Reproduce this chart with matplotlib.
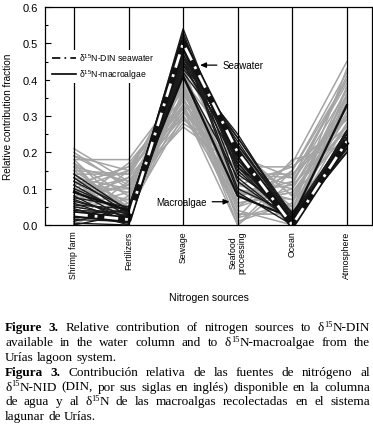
import matplotlib
matplotlib.use("Agg")
import matplotlib.pyplot as plt
from matplotlib.lines import Line2D

plt.rcParams["mathtext.fontset"] = "custom"
plt.rcParams["mathtext.rm"] = "Liberation Serif"
plt.rcParams["mathtext.sf"] = "Liberation Sans"

SANS = ["Liberation Sans Narrow", "Liberation Sans", "DejaVu Sans"]
SERIF = ["Liberation Serif", "DejaVu Serif"]
W, H = 373, 435

sources = ["Shrimp farm", "Fertilizers", "Sewage", "Seafood\nprocessing", "Ocean", "Atmosphere"]

# macroalgae solutions (grey)
ma_shrimp = [0.21, 0.20, 0.19, 0.18, 0.17, 0.16, 0.15, 0.14, 0.13, 0.12, 0.11, 0.10, 0.09, 0.08, 0.07, 0.06, 0.05, 0.04,
             0.03, 0.02, 0.01, 0.00, 0.19, 0.17, 0.15, 0.13, 0.11, 0.09, 0.07, 0.05, 0.12, 0.16, 0.14, 0.10, 0.08, 0.18]
ma_fert = [0.12, 0.10, 0.15, 0.18, 0.08, 0.12, 0.05, 0.14, 0.10, 0.02, 0.16, 0.07, 0.13, 0.04, 0.11, 0.17, 0.09, 0.03,
           0.15, 0.06, 0.12, 0.08, 0.11, 0.01, 0.14, 0.05, 0.16, 0.10, 0.13, 0.07, 0.09, 0.03, 0.06, 0.15, 0.11, 0.04]
ma_sewage = [0.30, 0.35, 0.32, 0.38, 0.40, 0.33, 0.36, 0.42, 0.29, 0.37, 0.34, 0.44, 0.31, 0.39, 0.27, 0.35, 0.41, 0.33,
             0.38, 0.45, 0.30, 0.36, 0.32, 0.40, 0.34, 0.43, 0.37, 0.31, 0.39, 0.35, 0.28, 0.42, 0.36, 0.33, 0.38, 0.30]
ma_seafood = [0.10, 0.05, 0.15, 0.00, 0.20, 0.08, 0.12, 0.02, 0.18, 0.06, 0.14, 0.01, 0.22, 0.09, 0.16, 0.03, 0.11, 0.19,
              0.04, 0.13, 0.07, 0.17, 0.00, 0.10, 0.21, 0.05, 0.12, 0.15, 0.02, 0.08, 0.18, 0.06, 0.14, 0.03, 0.09, 0.11]
ma_ocean = [0.05, 0.10, 0.02, 0.15, 0.08, 0.12, 0.00, 0.18, 0.04, 0.09, 0.14, 0.06, 0.01, 0.11, 0.16, 0.03, 0.07, 0.13,
            0.00, 0.10, 0.17, 0.05, 0.12, 0.02, 0.08, 0.15, 0.04, 0.11, 0.06, 0.14, 0.01, 0.09, 0.13, 0.03, 0.07, 0.16]
ma_atmos = [0.30, 0.35, 0.28, 0.40, 0.25, 0.33, 0.38, 0.22, 0.43, 0.30, 0.27, 0.36, 0.24, 0.41, 0.29, 0.34, 0.20, 0.39,
            0.26, 0.32, 0.45, 0.28, 0.37, 0.23, 0.31, 0.42, 0.35, 0.26, 0.38, 0.30, 0.33, 0.27, 0.40, 0.24, 0.36, 0.29]

# seawater DIN solutions (black)
sw_shrimp = [0.00, 0.005, 0.01, 0.015, 0.02, 0.025, 0.03, 0.035, 0.04, 0.045, 0.05, 0.055, 0.06, 0.065, 0.07, 0.075,
             0.08, 0.09, 0.095, 0.10, 0.11, 0.12, 0.13, 0.14]
sw_fert = [0.03, 0.00, 0.045, 0.01, 0.02, 0.005, 0.04, 0.015, 0.035, 0.00, 0.025, 0.045, 0.01, 0.03, 0.02, 0.05,
           0.005, 0.04, 0.015, 0.035, 0.025, 0.045, 0.03, 0.04]
sw_sewage = [0.52, 0.46, 0.50, 0.48, 0.54, 0.44, 0.51, 0.47, 0.53, 0.45, 0.49, 0.50, 0.43, 0.52, 0.48, 0.46,
             0.51, 0.42, 0.50, 0.47, 0.44, 0.49, 0.45, 0.41]
sw_seafood = [0.20, 0.24, 0.18, 0.22, 0.16, 0.25, 0.19, 0.21, 0.14, 0.23, 0.20, 0.17, 0.24, 0.15, 0.19, 0.18,
              0.12, 0.22, 0.10, 0.17, 0.20, 0.09, 0.16, 0.13]
sw_ocean = [0.01, 0.02, 0.00, 0.03, 0.005, 0.015, 0.025, 0.00, 0.035, 0.01, 0.02, 0.005, 0.03, 0.015, 0.00, 0.025,
            0.01, 0.02, 0.03, 0.005, 0.015, 0.00, 0.035, 0.01]
sw_atmos = [0.23, 0.22, 0.24, 0.21, 0.25, 0.20, 0.23, 0.26, 0.22, 0.24, 0.21, 0.23, 0.25, 0.20, 0.24, 0.22,
            0.26, 0.21, 0.23, 0.25, 0.22, 0.24, 0.20, 0.26]

sw_mean = [0.03, 0.015, 0.50, 0.20, 0.00, 0.23]
ma_mean = [0.09, 0.04, 0.41, 0.08, 0.02, 0.33]

# "^15^" marks a superscript inside a word
caption_lines = [
    (2, True, "Figure 3. Relative contribution of nitrogen sources to δ^15^N-DIN"),
    (0, True, "available in the water column and to δ^15^N-macroalgae from the"),
    (0, False, "Urías lagoon system."),
    (2, True, "Figura 3. Contribución relativa de las fuentes de nitrógeno al"),
    (0, True, "δ^15^N-NID (DIN, por sus siglas en inglés) disponible en la columna"),
    (0, True, "de agua y al δ^15^N de las macroalgas recolectadas en el sistema"),
    (0, False, "lagunar de Urías."),
]

fig = plt.figure(figsize=(W / 100, H / 100), dpi=100)
ax = fig.add_axes([45 / W, 1 - 226 / H, (372 - 45) / W, (226 - 8) / H])

xs = list(range(len(sources)))
ma_rows = zip(ma_shrimp, ma_fert, ma_sewage, ma_seafood, ma_ocean, ma_atmos)
for row in ma_rows:
    ax.plot(xs, row, color="#a4a4a4", lw=1.1, zorder=2)
sw_rows = zip(sw_shrimp, sw_fert, sw_sewage, sw_seafood, sw_ocean, sw_atmos)
for row in sw_rows:
    ax.plot(xs, row, color="#1a1a1a", lw=1.0, zorder=3)

ax.plot(xs, ma_mean, color="#111111", lw=1.6, zorder=4)
ax.plot(xs, sw_mean, color="#111111", lw=4.5, zorder=4, solid_capstyle="butt")
ax.plot(xs, sw_mean, color="white", lw=2.0, ls=(0, (5, 2.5, 1, 2.5)), zorder=5)

for xv in xs:
    ax.axvline(xv, color="black", lw=0.9, zorder=6)

ax.set_xlim(-0.53, 5.46)
ax.set_ylim(0, 0.6)
ax.set_xticks(xs)
ax.set_xticklabels(sources, rotation=90, family=SANS, fontsize=6.3, va="top", ha="center",
                   linespacing=1.0)
ax.tick_params(axis="x", length=0, pad=4)
ax.set_yticks([0.0, 0.1, 0.2, 0.3, 0.4, 0.5, 0.6])
ax.set_yticks([0.05, 0.15, 0.25, 0.35, 0.45, 0.55], minor=True)
ax.set_yticklabels([f"{v:.1f}" for v in ax.get_yticks()], family=SANS, fontsize=8)
ax.tick_params(axis="y", direction="in", length=4, width=0.8, pad=5)
ax.tick_params(axis="y", which="minor", direction="in", length=2.5, width=0.8)
for sp in ax.spines.values():
    sp.set_linewidth(0.9)

ax.set_xlabel("Nitrogen sources", family=SANS, fontsize=7.6)
ax.xaxis.set_label_coords(0.5, (226 - 293) / 218, transform=ax.transAxes)
ax.set_ylabel("Relative contribution fraction", family=SANS, fontsize=7.2)
ax.yaxis.set_label_coords((13 - 45) / 327, 0.5)

handles = [
    Line2D([], [], color="black", lw=1.2, ls=(0, (5, 2.5, 1, 2.5))),
    Line2D([], [], color="black", lw=1.2),
]
labels = ["δ$^{\\mathsf{15}}$N-DIN seawater", "δ$^{\\mathsf{15}}$N-macroalgae"]
leg = ax.legend(handles, labels, loc="upper left", bbox_to_anchor=(0.015, 0.805), frameon=True,
                prop={"family": SANS, "size": 6.2}, handlelength=2.8, handletextpad=0.4,
                labelspacing=0.5, borderpad=0.2, borderaxespad=0)
leg.get_frame().set_edgecolor("none")
leg.get_frame().set_facecolor("white")
leg.get_frame().set_alpha(1)
leg.set_zorder(7)

arrow = dict(arrowstyle="-|>,head_length=0.5,head_width=0.22", color="black", lw=0.9, shrinkA=2, shrinkB=0)
ax.annotate("Seawater", xy=(2.31, 0.44), xytext=(2.72, 0.44), va="center", ha="left",
            family=SANS, fontsize=7, arrowprops=arrow, zorder=8)
ax.annotate("Macroalgae", xy=(2.85, 0.064), xytext=(2.43, 0.064), va="center", ha="right",
            family=SANS, fontsize=7, arrowprops=arrow, zorder=8)

# justified caption, one text object per word piece
CAP_FS = 9.5
SUP_FS = 6.0
SUP_RAISE = 4.5
left_px, right_px = 5, 370
baseline0, step = 331.5, 14.8
renderer = fig.canvas.get_renderer()

for i, (n_bold, justify, line) in enumerate(caption_lines):
    base_px = baseline0 + i * step
    words = line.split(" ")
    items = []
    for k, w in enumerate(words):
        weight = "bold" if k < n_bold else "normal"
        parts = w.split("^")
        pieces = []
        for j, p in enumerate(parts):
            if not p:
                continue
            sup = j % 2 == 1
            yy = base_px - (SUP_RAISE if sup else 0)
            t = fig.text(0, 1 - yy / H, p, family=SERIF, fontsize=SUP_FS if sup else CAP_FS,
                         va="baseline", ha="left", fontweight=weight)
            pieces.append((t, t.get_window_extent(renderer).width))
        items.append(pieces)
    widths = [sum(wd for _, wd in pcs) for pcs in items]
    if justify:
        gap = (right_px - left_px - sum(widths)) / (len(items) - 1)
    else:
        gap = CAP_FS * 100 / 72 * 0.25
    xpos = left_px
    for pcs, wsum in zip(items, widths):
        xp = xpos
        for t, wd in pcs:
            t.set_x(xp / W)
            xp += wd
        xpos += wsum + gap

fig.savefig("out.png", dpi=100)
